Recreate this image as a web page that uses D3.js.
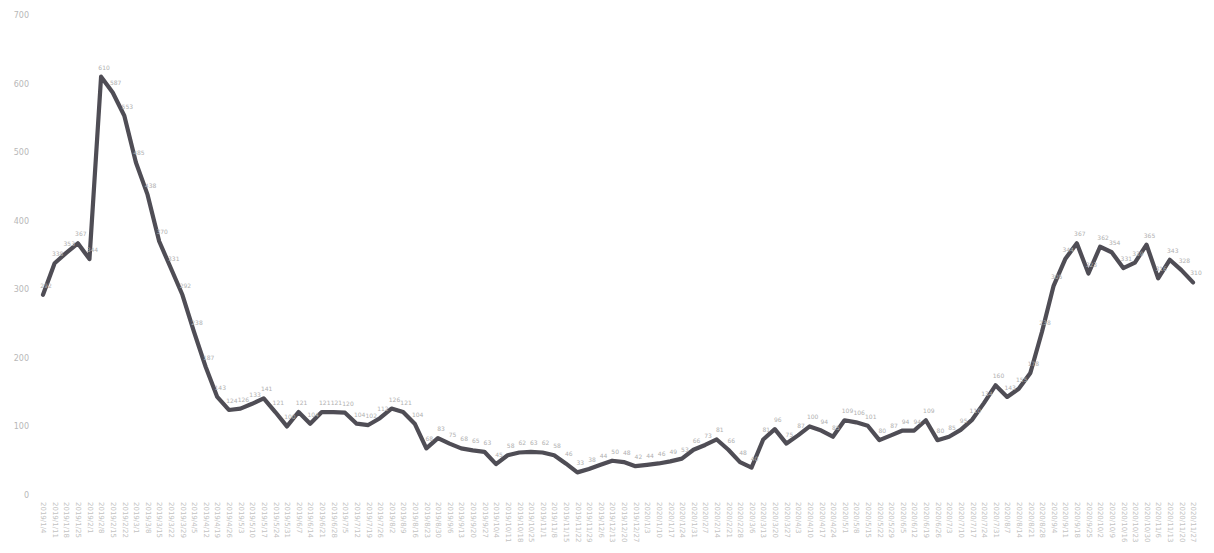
<!DOCTYPE html>
<html>
<head>
<meta charset="utf-8">
<script src="https://cdn.jsdelivr.net/npm/d3@7"></script>
<style>
  html, body { margin: 0; padding: 0; background: #ffffff; }
  svg { display: block; }
</style>
</head>
<body>
<svg id="chart" width="1214" height="553"></svg>
<script>
// ---- data ----
const categories = [
  "2019/1/4","2019/1/11","2019/1/18","2019/1/25","2019/2/1","2019/2/8","2019/2/15","2019/2/22",
  "2019/3/1","2019/3/8","2019/3/15","2019/3/22","2019/3/29","2019/4/5","2019/4/12","2019/4/19",
  "2019/4/26","2019/5/3","2019/5/10","2019/5/17","2019/5/24","2019/5/31","2019/6/7","2019/6/14",
  "2019/6/21","2019/6/28","2019/7/5","2019/7/12","2019/7/19","2019/7/26","2019/8/2","2019/8/9",
  "2019/8/16","2019/8/23","2019/8/30","2019/9/6","2019/9/13","2019/9/20","2019/9/27","2019/10/4",
  "2019/10/11","2019/10/18","2019/10/25","2019/11/1","2019/11/8","2019/11/15","2019/11/22","2019/11/29",
  "2019/12/6","2019/12/13","2019/12/20","2019/12/27","2020/1/3","2020/1/10","2020/1/17","2020/1/24",
  "2020/1/31","2020/2/7","2020/2/14","2020/2/21","2020/2/28","2020/3/6","2020/3/13","2020/3/20",
  "2020/3/27","2020/4/3","2020/4/10","2020/4/17","2020/4/24","2020/5/1","2020/5/8","2020/5/15",
  "2020/5/22","2020/5/29","2020/6/5","2020/6/12","2020/6/19","2020/6/26","2020/7/3","2020/7/10",
  "2020/7/17","2020/7/24","2020/7/31","2020/8/7","2020/8/14","2020/8/21","2020/8/28","2020/9/4",
  "2020/9/11","2020/9/18","2020/9/25","2020/10/2","2020/10/9","2020/10/16","2020/10/23","2020/10/30",
  "2020/11/6","2020/11/13","2020/11/20","2020/11/27"
];

const values = [
  292, 338, 353, 367, 344, 610, 587, 553, 485, 438,
  370, 331, 292, 238, 187, 143, 124, 126, 133, 141,
  121, 100, 121, 104, 121, 121, 120, 104, 102, 112,
  126, 121, 104, 68, 83, 75, 68, 65, 63, 45,
  58, 62, 63, 62, 58, 46, 33, 38, 44, 50,
  48, 42, 44, 46, 49, 53, 66, 73, 81, 66,
  48, 40, 81, 96, 75, 87, 100, 94, 85, 109,
  106, 101, 80, 87, 94, 94, 109, 80, 85, 95,
  110, 134, 160, 143, 155, 178, 238, 305, 344, 367,
  323, 362, 354, 331, 339, 365, 316, 343, 328, 310
];

const yTicks = [0, 100, 200, 300, 400, 500, 600, 700];

// ---- chart ----
const svg = d3.select("#chart");
const x = d3.scalePoint().domain(categories).range([43, 1193]);
const y = d3.scaleLinear().domain([0, 700]).range([495, 15]);

// y axis
const yAxis = svg.append("g")
  .attr("transform", "translate(29,0)")
  .call(d3.axisLeft(y).tickValues(yTicks).tickSize(0).tickPadding(0));
yAxis.select(".domain").remove();
yAxis.selectAll("text")
  .attr("font-family", "DejaVu Sans, sans-serif")
  .attr("font-size", 8)
  .attr("fill", "#b8b8b8");

// x axis (vertical labels)
const xAxis = svg.append("g")
  .attr("transform", "translate(0,500)")
  .call(d3.axisBottom(x).tickSize(0).tickPadding(0));
xAxis.select(".domain").remove();
xAxis.selectAll("text")
  .attr("font-family", "DejaVu Sans, sans-serif")
  .attr("font-size", 7)
  .attr("fill", "#c2c2c2")
  .attr("text-anchor", "start")
  .attr("dy", "0.32em")
  .attr("transform", "rotate(90)")
  .attr("x", 2)
  .attr("y", 0);

// soft blur to imitate the printed look
const defs = svg.append("defs");
defs.append("filter").attr("id", "soft")
  .append("feGaussianBlur").attr("stdDeviation", 0.6);

// line
const line = d3.line()
  .x((d, i) => x(categories[i]))
  .y(d => y(d));

svg.append("path")
  .datum(values)
  .attr("d", line)
  .attr("fill", "none")
  .attr("stroke", "#4f4d55")
  .attr("stroke-width", 4.2)
  .attr("stroke-linejoin", "round")
  .attr("stroke-linecap", "round")
  .attr("filter", "url(#soft)");

// data labels
svg.append("g")
  .selectAll("text")
  .data(values)
  .join("text")
  .attr("x", (d, i) => x(categories[i]) + 3)
  .attr("y", d => y(d) - 7)
  .attr("text-anchor", "middle")
  .attr("font-family", "DejaVu Sans, sans-serif")
  .attr("font-size", 6)
  .attr("fill", "#b0b0b0")
  .text(d => d);
</script>
</body>
</html>
